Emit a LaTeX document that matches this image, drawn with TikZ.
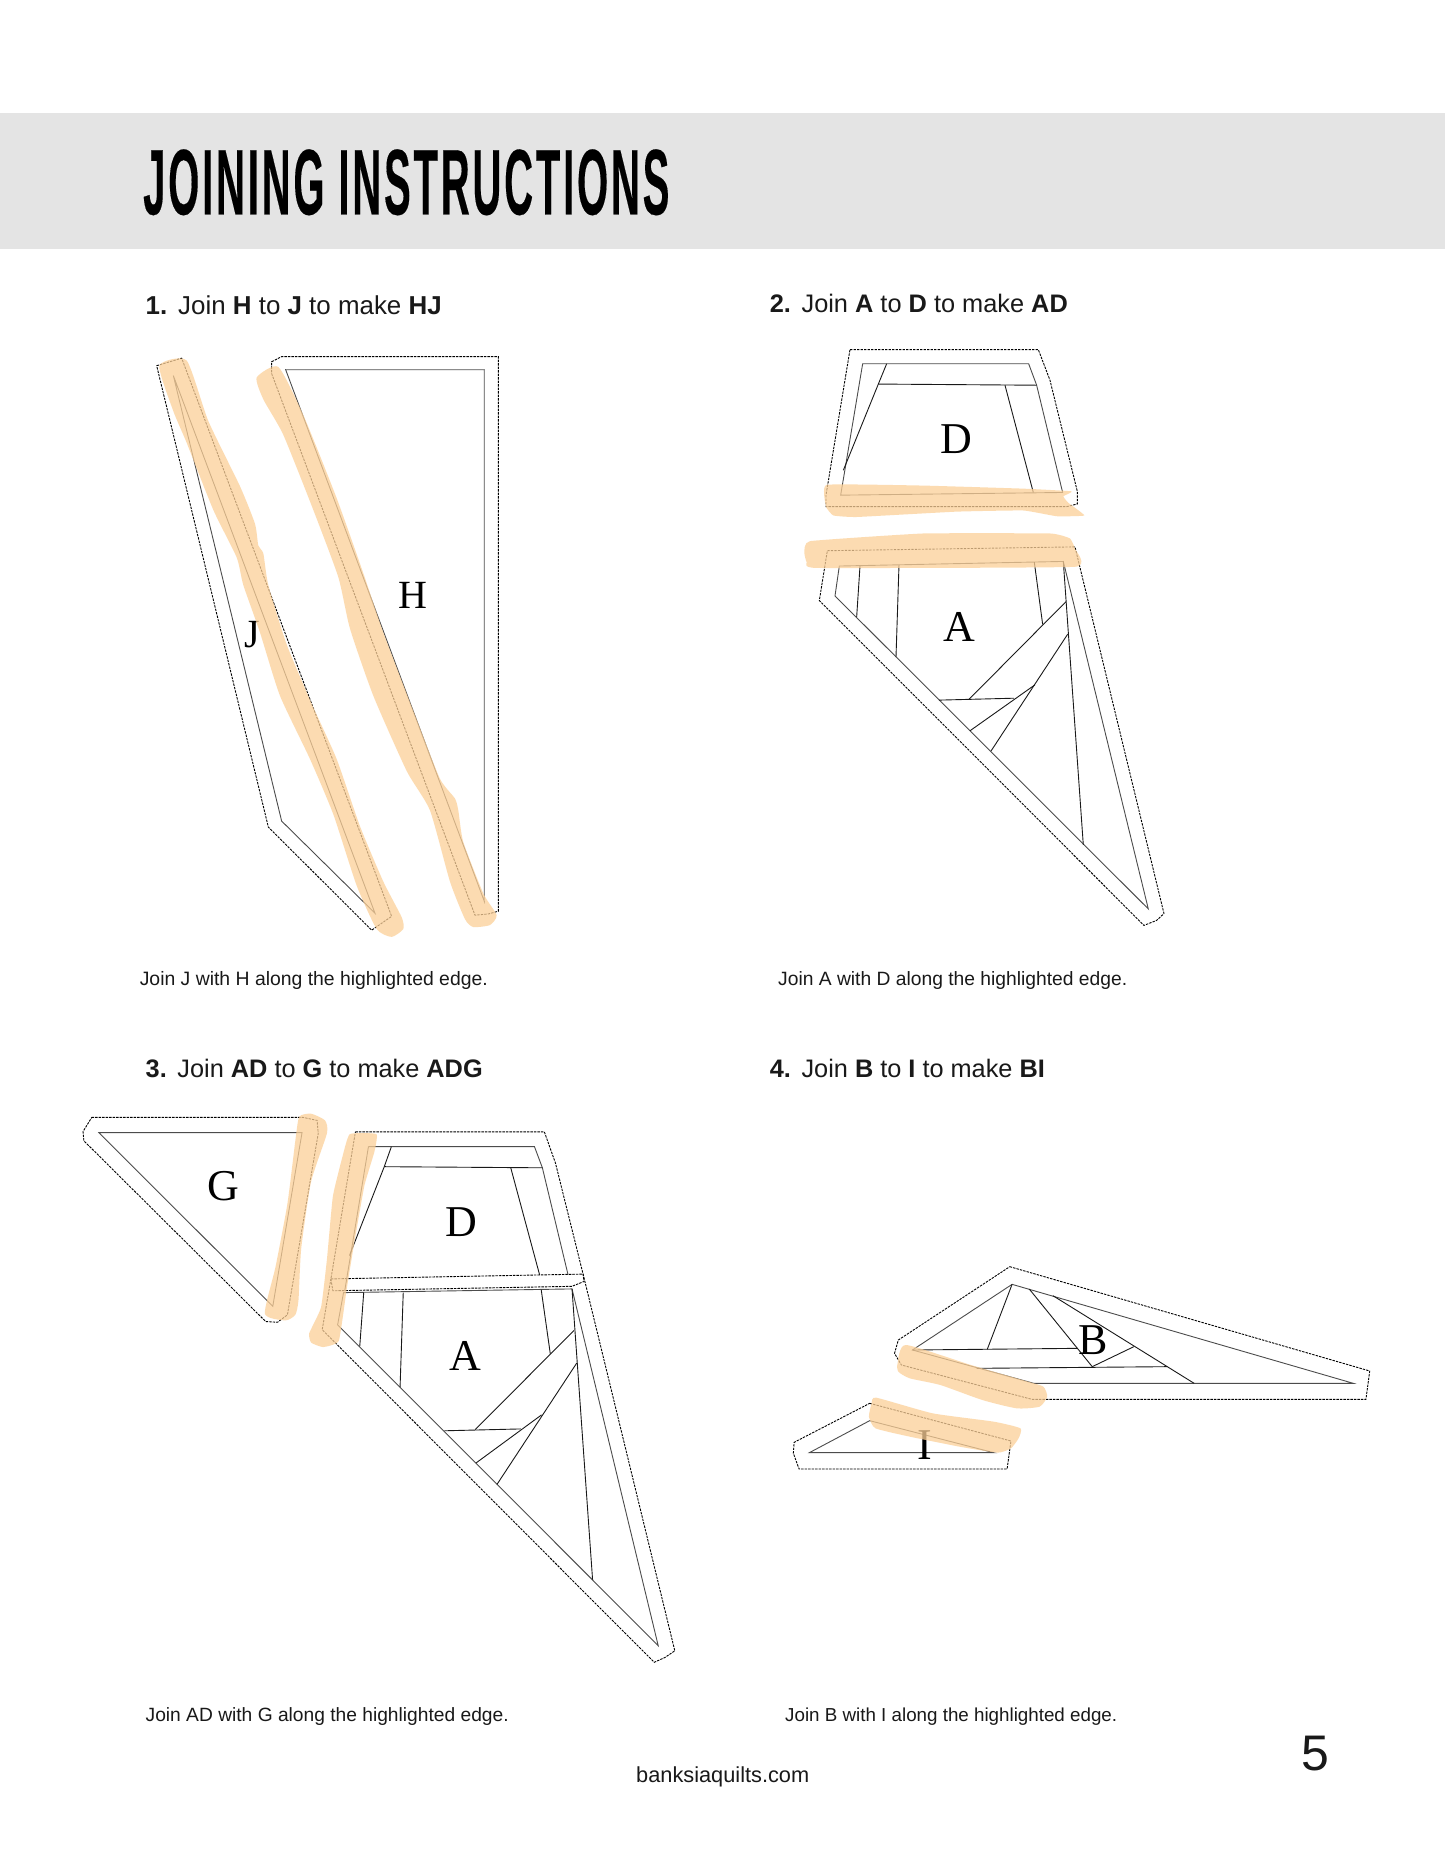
\documentclass[tikz,border=0pt]{standalone}
\usepackage{fontspec}
\usepackage{graphicx}
\setmainfont{Liberation Sans}
\newfontfamily\lbl{Liberation Serif}
\newfontfamily\titlef{Liberation Sans}[BoldFeatures={FakeBold=0.3},LetterSpace=7]
\newcommand{\fitw}[2]{\resizebox{#1pt}{!}{#2}}
\newcommand{\hnum}[1]{\textbf{#1}\hspace{0.42em}}
\definecolor{hlc}{HTML}{FCD098}
\definecolor{band}{HTML}{E4E4E4}
\tikzset{
  pieceline/.style={draw=black!70,line width=0.9pt,line join=miter},
  innerline/.style={draw=black!90,line width=0.9pt},
  seamline/.style={draw=black,line width=0.9pt,dash pattern=on 2.4pt off 1.1pt},
  hl/.style={fill=hlc,fill opacity=0.75,draw=none},
  lab/.style={inner sep=0pt,xshift=1pt,font=\lbl\fontsize{40}{40}\selectfont},
  biglab/.style={inner sep=0pt,xshift=1pt,font=\lbl\fontsize{44}{44}\selectfont},
  txt/.style={inner sep=0pt,anchor=base west,text=black!90},
}
\begin{document}
\begin{tikzpicture}[x=1pt,y=-1pt]
\useasboundingbox (0,0) rectangle (1445,1871);
\fill[white] (0,0) rectangle (1445,1871);
\fill[band] (0,113) rectangle (1445,248.5);
\node[inner sep=0pt,anchor=south west] (title) at (143,215.5)
  {\resizebox{526pt}{65pt}{\titlef\bfseries JOINING INSTRUCTIONS}};

\node[txt] (h1) at (145.5,314) {\fitw{296}{\hnum{1.}Join \textbf{H} to \textbf{J} to make \textbf{HJ}}};
\node[txt] (h2) at (769.6,312) {\fitw{298}{\hnum{2.}Join \textbf{A} to \textbf{D} to make \textbf{AD}}};
\node[txt] (h3) at (145.5,1077) {\fitw{337}{\hnum{3.}Join \textbf{AD} to \textbf{G} to make \textbf{ADG}}};
\node[txt] (h4) at (769.6,1077) {\fitw{275}{\hnum{4.}Join \textbf{B} to \textbf{I} to make \textbf{BI}}};
\node[txt] (c1) at (139.6,985) {\fitw{348}{Join J with H along the highlighted edge.}};
\node[txt] (c2) at (778,985) {\fitw{349}{Join A with D along the highlighted edge.}};
\node[txt] (c3) at (145.5,1721.5) {\fitw{363}{Join AD with G along the highlighted edge.}};
\node[txt] (c4) at (785,1721.5) {\fitw{332}{Join B with I along the highlighted edge.}};
\node[txt] (site) at (636,1782.5) {\fitw{173}{banksiaquilts.com}};
\node[txt,font=\fontsize{50}{50}\selectfont] (pg) at (1301,1770.5) {5};

% Panel 1
\begin{scope}[xshift=130pt,yshift=-340pt,x=0.3333pt,y=-0.3953pt]
  \draw[seamline] (80,65)--(155,46)--(785,1458)--(725,1493)--(415,1232)--cycle;
  \draw[pieceline] (130,90)--(735,1450)--(455,1217)--cycle;
  \draw[seamline] (425,55)--(455,42)--(1105,42)--(1105,1445)--(1075,1452)--(1035,1455)--(425,85)--cycle;
  \draw[pieceline] (467,75)--(1063,75)--(1063,1420)--cycle;
  \draw[draw=black!45,line width=1.2pt] (467,75)--(1063,75)--(1063,1420);
  \node[lab] (H) at (847,645) {H};
  \node[lab] (J) at (365,745) {J};
  \fill[hl] plot[smooth cycle,tension=.35] coordinates {(88,65)(170,52)(235,205)(330,370)(375,465)(385,520)(400,540)(415,620)(470,770)(545,920)(620,1060)(690,1230)(760,1370)(815,1460)(820,1490)(785,1510)(740,1490)(680,1380)(610,1200)(540,1060)(450,900)(390,740)(340,620)(320,550)(250,430)(170,260)(130,180)};
  \fill[hl] plot[smooth cycle,tension=.35] coordinates {(380,95)(445,68)(520,190)(620,400)(700,590)(760,740)(860,960)(930,1110)(975,1160)(985,1190)(1000,1270)(1060,1400)(1100,1455)(1080,1480)(1030,1485)(1005,1465)(960,1370)(900,1190)(830,1090)(730,900)(660,730)(625,600)(550,430)(460,240)(400,150)};
\end{scope}

% Panel 2
\begin{scope}[xshift=790pt,yshift=-340pt,x=0.3333pt,y=-0.3831pt]
  \draw[seamline] (180,25)--(745,25)--(780,105)--(862,395)--(862,428)--(830,435)--(108,435)--(108,405)--cycle;
  \draw[pieceline] (218,62)--(716,62)--(740,118)--(818,398)--(152,405)--cycle;
  \draw[innerline] (290,62)--(265,115)--(160,340);
  \draw[innerline] (265,115)--(740,118);
  \draw[innerline] (645,118)--(730,398);
  \draw[seamline] (112,550)--(855,540)--(1122,1497)--(1100,1515)--(1062,1528)--(88,680)--cycle;
  \draw[pieceline] (148,590)--(820,578)--(1075,1485)--(135,668)--cycle;
  \draw[innerline] (820,578)--(880,1318);
  \draw[innerline] (733,580)--(758,742);
  \draw[innerline] (828,683)--(537,938);
  \draw[innerline] (833,768)--(603,1073);
  \draw[innerline] (447,940)--(672,935);
  \draw[innerline] (735,900)--(540,1020);
  \draw[innerline] (210,590)--(200,723);
  \draw[innerline] (327,587)--(318,828);
  \node[biglab] (D2) at (495,260) {D};
  \node[biglab] (A2) at (505,750) {A};
  \fill[hl] plot[smooth cycle,tension=.2] coordinates {(110,378)(400,380)(700,388)(845,395)(820,408)(835,425)(883,458)(800,460)(700,445)(500,448)(200,462)(130,458)(108,435)};
  \fill[hl] plot[smooth cycle,tension=.2] coordinates {(43,555)(60,525)(400,505)(780,505)(840,518)(855,545)(855,592)(80,595)(50,580)};
\end{scope}

% Panel 3
\begin{scope}[xshift=70pt,yshift=-1100pt,x=0.3953pt,y=-0.3704pt]
  \draw[seamline] (55,47)--(590,47)--(625,55)--(628,90)--(550,580)--(525,600)--(495,598)--(35,110)--(33,85)--cycle;
  \draw[pieceline] (73,88)--(587,88)--(513,557)--cycle;
  \draw[seamline] (722,86)--(1200,86)--(1228,170)--(1298,470)--(1300,490)--(1270,503)--(665,515)--(660,483)--cycle;
  \draw[seamline] (660,483)--(1298,470)--(1530,1487)--(1505,1505)--(1478,1518)--(638,620)--cycle;
  \draw[pieceline] (755,126)--(1175,126)--(1195,183)--(1260,472);
  \draw[pieceline] (755,126)--(695,515);
  \draw[pieceline] (692,520)--(1270,510)--(1488,1473)--(677,607)--cycle;
  \draw[innerline] (813,126)--(795,180)--(707,420);
  \draw[innerline] (795,180)--(1195,183);
  \draw[innerline] (1115,183)--(1188,472);
  \draw[innerline] (743,520)--(733,665);
  \draw[innerline] (843,520)--(835,775);
  \draw[innerline] (1192,512)--(1215,685);
  \draw[innerline] (1275,622)--(1025,890);
  \draw[innerline] (1282,710)--(1080,1038);
  \draw[innerline] (947,893)--(1140,888);
  \draw[innerline] (1193,850)--(1027,980);
  \draw[innerline] (1270,510)--(1322,1295);
  \node[biglab] (G3) at (385,233) {G};
  \node[biglab] (D3) at (988,330) {D};
  \node[biglab] (A3) at (998,692) {A};
  \fill[hl] plot[smooth cycle,tension=.35] coordinates {(580,45)(610,37)(645,55)(650,90)(610,220)(585,400)(578,540)(570,580)(545,595)(493,577)(520,450)(550,280)(570,110)};
  \fill[hl] plot[smooth cycle,tension=.25] coordinates {(708,92)(775,92)(770,140)(745,230)(720,380)(700,510)(680,650)(640,667)(610,655)(605,630)(635,560)(650,430)(665,260)(690,150)};
\end{scope}

% Panel 4
\begin{scope}[xshift=780pt,yshift=-1250pt,x=0.3817pt,y=-0.3333pt]
  \draw[seamline] (602,50)--(1545,363)--(1535,448)--(660,448)--(318,345)--(300,310)--(310,270)--cycle;
  \draw[pieceline] (608,103)--(1502,400)--(665,400)--(347,300)--cycle;
  \draw[innerline] (347,300)--(780,295);
  \draw[innerline] (608,103)--(543,298);
  \draw[innerline] (653,117)--(818,350);
  \draw[innerline] (715,137)--(1085,400);
  \draw[innerline] (515,355)--(1015,350);
  \draw[innerline] (818,350)--(927,290);
  \draw[seamline] (235,460)--(605,573)--(595,657)--(50,657)--(35,610)--(37,577)--cycle;
  \draw[pieceline] (235,512)--(560,608)--(77,608)--cycle;
  \node[biglab] (B4) at (817,270) {B};
  \node[biglab] (I4) at (377,585) {I};
  \fill[hl] plot[smooth cycle,tension=.35] coordinates {(330,285)(500,345)(650,395)(690,410)(700,440)(680,470)(620,475)(530,450)(420,405)(340,385)(310,365)(308,340)};
  \fill[hl] plot[smooth cycle,tension=.3] coordinates {(252,443)(400,490)(560,515)(630,535)(625,565)(605,595)(570,608)(470,590)(340,560)(250,535)(233,500)(240,460)};
\end{scope}
\end{tikzpicture}
\end{document}
